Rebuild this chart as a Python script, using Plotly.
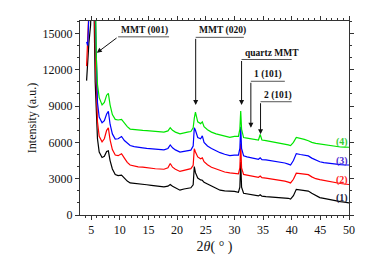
import plotly.graph_objects as go

two_theta = [4.2, 4.4, 4.6, 4.9, 5.3, 5.7, 5.9, 6.1, 6.4, 6.9, 7.3, 7.7, 8.0, 8.3, 8.7, 9.2, 9.7,
             10.3, 10.8, 11.3, 11.8, 12.5, 13.2, 14.0, 14.7, 15.5, 16.2, 17.0, 17.7, 18.4, 18.8,
             19.2, 19.7, 20.5, 21.2, 21.8, 22.4, 22.8, 23.0, 23.2, 23.6, 24.1, 24.4, 24.7, 25.3,
             26.0, 26.8, 27.5, 28.3, 29.2, 30.0, 30.7, 30.95, 31.1, 31.25, 31.6, 32.2, 32.9, 33.6,
             34.2, 34.5, 34.8, 35.5, 36.3, 37.2, 38.0, 38.8, 39.4, 39.8, 40.3, 40.8, 41.5, 42.2,
             42.9, 43.5, 44.2, 44.9, 45.6, 46.3, 47.0, 47.8, 48.5, 49.2, 50.0]

s1 = [11100, 12800, 14200, 15700, 23000, 11000, 8400, 6300, 5200, 4750, 4850, 5250, 5300, 4500, 3800, 3350, 3250,
      3300, 3050, 2800, 2650, 2600, 2550, 2520, 2500, 2450, 2400, 2380, 2330, 2380, 2520,
      2380, 2250, 2050, 2150, 2200, 2250, 2500, 4000, 3500, 3050, 2900, 2870, 2700, 2550,
      2380, 2200, 2050, 2000, 1980, 1950, 1870, 2300, 4400, 2300, 1800, 1760, 1700, 1620,
      1580, 1680, 1560, 1520, 1500, 1480, 1470, 1440, 1380, 1310, 1600, 2120, 2080, 2050,
      1980, 1800, 1600, 1440, 1380, 1300, 1250, 1150, 1100, 1060, 1000]

s2 = [12300, 13800, 15500, 19000, 25000, 14000, 10000, 7700, 6500, 6050, 6300, 7000, 7200, 6200, 5400, 4950, 4900,
      5060, 4700, 4350, 4130, 4050, 3980, 3950, 3900, 3860, 3820, 3800, 3780, 3900, 4260,
      3950, 3780, 3600, 3700, 3780, 3830, 4100, 5470, 5200, 4800, 4650, 4720, 4400, 4150,
      3950, 3800, 3650, 3550, 3480, 3450, 3400, 3900, 5900, 3900, 3350, 3300, 3250, 3180,
      3120, 3220, 3080, 3050, 3000, 2950, 2900, 2800, 2720, 2650, 2950, 3460, 3420, 3380,
      3330, 3150, 3000, 2920, 2850, 2780, 2720, 2650, 2600, 2560, 2520]

s3 = [14300, 14000, 16500, 23000, 26000, 17000, 11500, 9300, 8100, 7620, 7800, 8350, 8560, 7500, 6700, 6270, 6300,
      6490, 6150, 5900, 5740, 5650, 5580, 5550, 5500, 5470, 5420, 5400, 5380, 5500, 5790,
      5550, 5380, 5200, 5280, 5320, 5360, 5700, 7210, 7000, 6400, 6300, 6540, 6000, 5700,
      5500, 5300, 5150, 5020, 4900, 4950, 4940, 5500, 7300, 5500, 4900, 4800, 4720, 4650,
      4600, 4720, 4580, 4550, 4500, 4450, 4380, 4300, 4200, 4130, 4500, 5070, 5000, 4950,
      4880, 4700, 4520, 4400, 4330, 4280, 4250, 4200, 4160, 4140, 4130]

s4 = [17000, 18000, 20000, 24000, 27000, 20000, 13000, 10800, 9700, 9090, 9300, 9900, 10050, 9100, 8300, 7900, 7850,
      7900, 7600, 7300, 7100, 7050, 7020, 7000, 6980, 6950, 6900, 6880, 6850, 6950, 7210,
      7000, 6850, 6700, 6800, 6850, 6900, 7200, 8000, 8500, 7700, 7550, 7700, 7300, 7050,
      6850, 6700, 6600, 6500, 6420, 6500, 6490, 7100, 8600, 7100, 6400, 6350, 6300, 6240,
      6200, 6650, 6200, 6150, 6080, 6020, 5960, 5900, 5800, 5740, 6000, 6410, 6350, 6250,
      6140, 6000, 5920, 5870, 5800, 5720, 5680, 5640, 5620, 5610, 5600]

series = [("(1)", s1, "#000000", "#1a1a40", 1390),
          ("(2)", s2, "#ff0000", "#ff2020", 2920),
          ("(3)", s3, "#0000ff", "#4b2bd0", 4450),
          ("(4)", s4, "#00e600", "#33cc33", 6005)]

x_ticks = [5, 10, 15, 20, 25, 30, 35, 40, 45, 50]
y_ticks = [0, 3000, 6000, 9000, 12000, 15000]

SERIF = "Liberation Serif"

fig = go.Figure()
for name, ys, col, lcol, ly in series:
    fig.add_trace(go.Scatter(x=two_theta, y=ys, mode="lines", name=name,
                             line=dict(color=col, width=1.2), showlegend=False))
    fig.add_annotation(x=48.7, y=ly, text="<b>" + name + "</b>", showarrow=False,
                       font=dict(family=SERIF, size=10, color=lcol))

# peak labels: (text, arrow x, label line y, arrow head x, arrow head y, line end x)
labels = [("MMT (001)", 9.7, 14720, 5.99, 13400, 18.6),
          ("MMT (020)", 23.24, 14680, 23.24, 9090, 31.65),
          ("quartz MMT", 31.25, 12850, 31.25, 9090, 40.0),
          ("1 (101)", 32.87, 11050, 32.87, 7210, 38.8),
          ("2 (101)", 34.56, 9360, 34.56, 6670, 40.0)]
for txt, lx, ly, hx, hy, ex in labels:
    fig.add_shape(type="line", x0=lx, x1=ex, y0=ly, y1=ly, line=dict(color="#555555", width=1))
    fig.add_annotation(x=lx + 0.2, y=ly, text="<b>" + txt + "</b>", showarrow=False,
                       xanchor="left", yanchor="bottom", yshift=-1,
                       font=dict(family=SERIF, size=9.5, color="#111111"))
    fig.add_annotation(x=hx, y=hy, ax=lx, ay=ly, axref="x", ayref="y", text="",
                       showarrow=True, arrowhead=2, arrowsize=1, arrowwidth=1,
                       arrowcolor="#111111")

axis_common = dict(showline=True, linecolor="#333333", linewidth=1, mirror="allticks",
                   ticks="outside", ticklen=4, tickcolor="#333333", showgrid=False,
                   zeroline=False, tickfont=dict(family=SERIF, size=12, color="#111111"))

fig.update_xaxes(range=[3.05, 50], tickvals=x_ticks, ticktext=[str(v) for v in x_ticks],
                 minor=dict(dtick=1, tick0=0, ticks="outside", ticklen=2, tickcolor="#333333"),
                 title=dict(text="2<i>θ</i>( ° )", font=dict(family=SERIF, size=14, color="#111111"),
                            standoff=4),
                 **axis_common)
fig.update_yaxes(range=[0, 16030], tickvals=y_ticks, ticktext=[str(v) for v in y_ticks],
                 minor=dict(dtick=1000, tick0=0, ticks="outside", ticklen=2, tickcolor="#333333"),
                 title=dict(text="Intensity (a.u.)", font=dict(family=SERIF, size=12, color="#111111"),
                            standoff=3),
                 **axis_common)

# page body has an 8px default margin, so the figure is offset by 8px
fig.update_layout(width=366, height=252, margin=dict(l=72, r=24.5, t=7.5, b=45.4),
                  paper_bgcolor="white", plot_bgcolor="white")

fig.write_html("out.html")
